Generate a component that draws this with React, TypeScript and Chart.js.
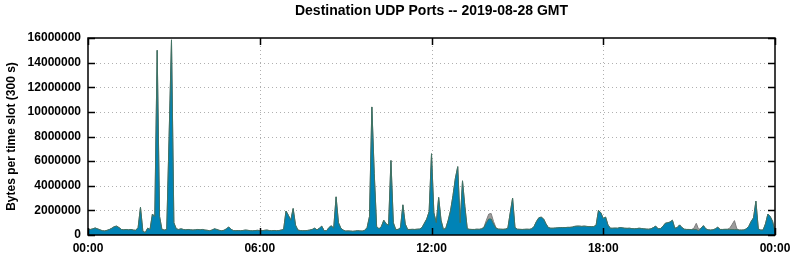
import React, { useEffect, useRef } from "react";
import { Chart, registerables } from "chart.js";

Chart.register(...registerables);

const TITLE = "Destination UDP Ports -- 2019-08-28 GMT";
const Y_TITLE = "Bytes per time slot (300 s)";

// 5-minute slots: 0 = 00:00, 288 = 00:00 next day
const xTickSlots = [0, 72, 144, 216, 288];
const xTickLabels = ["00:00", "06:00", "12:00", "18:00", "00:00"];
const yTickValues = [0, 2000000, 4000000, 6000000, 8000000, 10000000, 12000000, 14000000, 16000000];

// main (blue) layer, millions of bytes per slot, one row per hour
const blueMB = [
  0.45, 0.45, 0.5, 0.57, 0.5, 0.42, 0.35, 0.33, 0.38, 0.45, 0.55, 0.68,
  0.72, 0.6, 0.45, 0.42, 0.45, 0.42, 0.45, 0.4, 0.38, 0.6, 2.25, 0.3,
  0.2, 0.55, 0.45, 1.7, 1.5, 15.0, 1.5, 0.45, 0.4, 0.45, 8.0, 15.85,
  1.0, 0.5, 0.45, 0.5, 0.45, 0.42, 0.45, 0.42, 0.4, 0.42, 0.45, 0.42,
  0.45, 0.4, 0.38, 0.35, 0.4, 0.5, 0.45, 0.38, 0.35, 0.38, 0.5, 0.65,
  0.45, 0.36, 0.35, 0.36, 0.35, 0.37, 0.4, 0.38, 0.35, 0.34, 0.36, 0.38,
  0.36, 0.35, 0.38, 0.4, 0.36, 0.35, 0.37, 0.35, 0.36, 0.4, 0.45, 1.95,
  1.6, 1.2, 2.15, 0.8, 0.4, 0.36, 0.35, 0.35, 0.37, 0.4, 0.45, 0.55,
  0.42, 0.55, 0.72, 0.35, 0.35, 0.6, 0.75, 0.55, 3.1, 1.0, 0.55, 0.4,
  0.32, 0.33, 0.32, 0.3, 0.32, 0.35, 0.33, 0.32, 0.38, 0.6, 1.5, 10.4,
  5.0, 0.7, 0.5, 0.7, 1.2, 0.9, 0.8, 6.05, 1.0, 0.45, 0.45, 0.6,
  2.45, 0.9, 0.45, 0.45, 0.46, 0.45, 0.47, 0.48, 0.6, 0.95, 1.3, 1.9,
  6.6, 1.8, 1.0, 3.05, 1.2, 0.45, 0.55, 1.2, 2.0, 3.2, 4.6, 5.55,
  1.0, 4.4, 2.3, 0.5, 0.46, 0.45, 0.45, 0.47, 0.46, 0.5, 0.6, 1.0,
  1.3, 1.3, 0.9, 0.55, 0.48, 0.47, 0.46, 0.48, 0.55, 1.8, 3.0, 0.6,
  0.47, 0.46, 0.45, 0.46, 0.47, 0.46, 0.5, 0.7, 1.1, 1.4, 1.45, 1.3,
  0.9, 0.6, 0.55, 0.55, 0.57, 0.58, 0.6, 0.6, 0.6, 0.62, 0.62, 0.64,
  0.7, 0.72, 0.72, 0.7, 0.72, 0.7, 0.68, 0.68, 0.68, 0.8, 2.0, 1.8,
  1.35, 1.45, 0.8, 0.55, 0.55, 0.56, 0.55, 0.6, 0.58, 0.55, 0.54, 0.55,
  0.52, 0.5, 0.52, 0.55, 0.53, 0.5, 0.48, 0.47, 0.5, 0.6, 0.72, 0.5,
  0.52, 0.7, 0.95, 1.0, 1.05, 1.2, 0.55, 0.6, 0.82, 0.6, 0.47, 0.45,
  0.45, 0.44, 0.45, 0.45, 0.35, 0.55, 0.76, 0.5, 0.42, 0.4, 0.42, 0.5,
  0.63, 0.45, 0.45, 0.46, 0.46, 0.45, 0.45, 0.44, 0.44, 0.4, 0.4, 0.41,
  0.5, 0.7, 1.1, 1.4, 2.75, 0.5, 0.4, 0.4, 0.9, 1.7, 1.5, 1.1,
  0.25,
];

// other (gray) layer peeking above the blue one, millions of bytes
const grayBumpSlots = [166, 167, 168, 169, 170, 171, 254, 255, 256, 269, 270, 271, 272];
const grayBumpExtraMB = [0.05, 0.2, 0.4, 0.45, 0.2, 0.05, 0.1, 0.5, 0.1, 0.1, 0.4, 0.73, 0.06];

const FONT = "'Liberation Sans', Arial, Helvetica, sans-serif";

const framePlugin = {
  id: "gnuFrame",
  beforeDatasetsDraw(chart: any) {
    const { ctx, chartArea: a, scales } = chart;
    ctx.save();
    ctx.strokeStyle = "#b0b0b0";
    ctx.lineWidth = 1;
    ctx.setLineDash([1, 3]);
    yTickValues.slice(1, -1).forEach((v) => {
      const y = Math.round(scales.y.getPixelForValue(v)) + 0.5;
      ctx.beginPath();
      ctx.moveTo(a.left, y);
      ctx.lineTo(a.right, y);
      ctx.stroke();
    });
    xTickSlots.slice(1, -1).forEach((v) => {
      const x = Math.round(scales.x.getPixelForValue(v)) + 0.5;
      ctx.beginPath();
      ctx.moveTo(x, a.top);
      ctx.lineTo(x, a.bottom);
      ctx.stroke();
    });
    ctx.restore();
  },
  afterDatasetsDraw(chart: any) {
    const { ctx, chartArea: a, scales } = chart;
    ctx.save();
    ctx.strokeStyle = "#000";
    ctx.lineWidth = 1.5;
    ctx.strokeRect(a.left, a.top, a.right - a.left, a.bottom - a.top);
    const tl = 7;
    yTickValues.forEach((v) => {
      const y = Math.round(scales.y.getPixelForValue(v)) + 0.5;
      ctx.beginPath();
      ctx.moveTo(a.left, y);
      ctx.lineTo(a.left + tl, y);
      ctx.moveTo(a.right, y);
      ctx.lineTo(a.right - tl, y);
      ctx.stroke();
    });
    xTickSlots.forEach((v) => {
      const x = Math.round(scales.x.getPixelForValue(v)) + 0.5;
      ctx.beginPath();
      ctx.moveTo(x, a.bottom);
      ctx.lineTo(x, a.bottom - tl);
      ctx.moveTo(x, a.top);
      ctx.lineTo(x, a.top + tl);
      ctx.stroke();
    });
    ctx.restore();
  },
  afterDraw(chart: any) {
    const { ctx, chartArea: a } = chart;
    ctx.save();
    ctx.fillStyle = "#000";
    ctx.textAlign = "center";
    ctx.textBaseline = "middle";
    ctx.font = `bold 14px ${FONT}`;
    ctx.fillText(TITLE, (a.left + a.right) / 2, 11);
    ctx.translate(12, (a.top + a.bottom) / 2);
    ctx.rotate(-Math.PI / 2);
    ctx.font = `bold 12px ${FONT}`;
    ctx.fillText(Y_TITLE, 0, 0);
    ctx.restore();
  },
};

export default function App() {
  const ref = useRef<HTMLCanvasElement | null>(null);

  useEffect(() => {
    if (!ref.current) return;
    const extra = blueMB.map(() => 0);
    grayBumpSlots.forEach((s, k) => {
      extra[s] = grayBumpExtraMB[k];
    });
    const bluePts = blueMB.map((v, i) => ({ x: i, y: v * 1e6 }));
    const totalPts = blueMB.map((v, i) => ({ x: i, y: (v + extra[i]) * 1e6 }));

    const chart = new Chart(ref.current, {
      type: "line",
      data: {
        datasets: [
          {
            label: "udp",
            data: bluePts,
            borderColor: "#3f7262",
            backgroundColor: "#0083b6",
            borderWidth: 1,
            pointRadius: 0,
            fill: "origin",
            tension: 0,
          },
          {
            label: "other",
            data: totalPts,
            borderColor: "#7d7d7d",
            backgroundColor: "#9c9c9c",
            borderWidth: 1,
            pointRadius: 0,
            fill: "origin",
            tension: 0,
          },
        ],
      },
      options: {
        responsive: false,
        maintainAspectRatio: false,
        devicePixelRatio: 1,
        animation: false,
        layout: { padding: { top: 38, right: 20, left: 0, bottom: 0 } },
        plugins: {
          legend: { display: false },
          tooltip: { enabled: false },
          title: { display: false },
        },
        scales: {
          x: {
            type: "linear",
            min: 0,
            max: 288,
            grid: { display: false },
            border: { display: false },
            afterBuildTicks: (s: any) => {
              s.ticks = xTickSlots.map((v) => ({ value: v }));
            },
            afterFit: (s: any) => {
              s.height = 25;
            },
            ticks: {
              autoSkip: false,
              maxRotation: 0,
              padding: -2,
              color: "#000",
              font: { family: FONT, size: 12, weight: "bold" },
              callback: (v: any) => {
                const k = xTickSlots.indexOf(Number(v));
                return k >= 0 ? xTickLabels[k] : "";
              },
            },
          },
          y: {
            min: 0,
            max: 16000000,
            grid: { display: false },
            border: { display: false },
            afterBuildTicks: (s: any) => {
              s.ticks = yTickValues.map((v) => ({ value: v }));
            },
            afterFit: (s: any) => {
              s.width = 88;
            },
            ticks: {
              padding: -1,
              color: "#000",
              font: { family: FONT, size: 12, weight: "bold" },
              callback: (v: any) => String(v),
            },
          },
        },
      },
      plugins: [framePlugin],
    });
    return () => chart.destroy();
  }, []);

  return (
    <div style={{ position: "fixed", left: 0, top: 0, width: 795, height: 260, background: "#fff" }}>
      <canvas ref={ref} width={795} height={260} style={{ width: 795, height: 260, display: "block" }} />
    </div>
  );
}
